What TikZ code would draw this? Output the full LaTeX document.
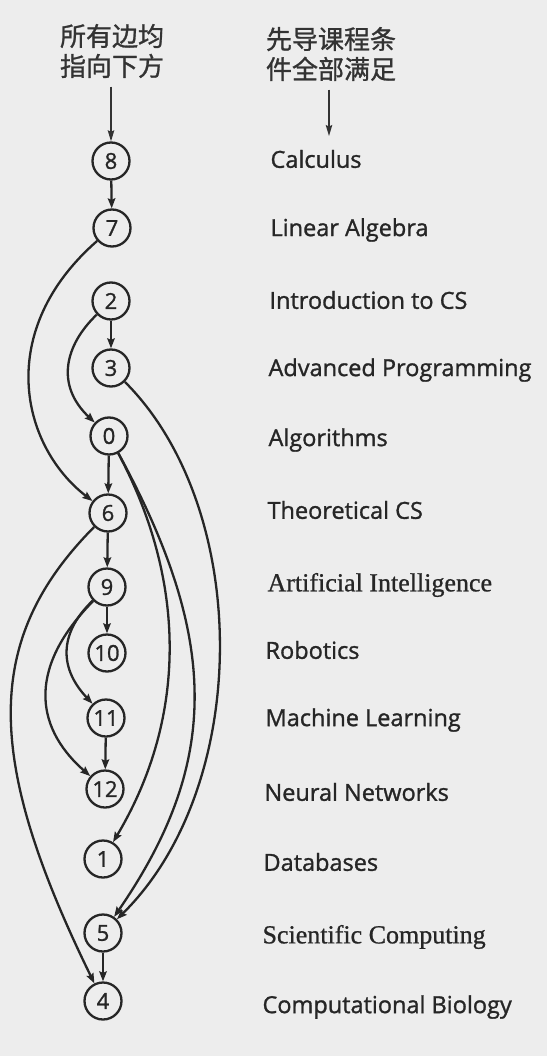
\documentclass[tikz,border=0pt]{standalone}
\usepackage{fontspec}
\setmainfont{Open Sans}
\newfontfamily\labelfont{Open Sans}[FakeBold=1.2]
\newfontfamily\cjkfont{Noto Sans CJK SC}[FakeBold=1]
\newfontfamily\timesfont{Liberation Serif}[FakeBold=0.8]
\usepackage{tikz}
\usetikzlibrary{arrows.meta,positioning}

\tikzset{
  course/.style={circle,draw=black!85,line width=2.3pt,minimum size=37pt,inner sep=0pt,
    text=black!85,font=\labelfont\fontsize{22}{22}\selectfont},
  title/.style={anchor=west,text=black!85,font=\labelfont\fontsize{23.5}{26}\selectfont},
  seriftitle/.style={title,font=\timesfont\fontsize{26}{28}\selectfont},
  header/.style={align=center,text=black!80,font=\cjkfont\fontsize{26}{30}\selectfont},
  prereq/.style={draw=black!85,line width=2.3pt,-{Stealth[length=10pt,width=7.5pt,inset=1.5pt]}},
  pointer/.style={draw=black!80,line width=1.3pt,-{Stealth[length=11pt,width=6.5pt,inset=1.5pt]}},
}

\begin{document}
\begin{tikzpicture}[x=1pt,y=-1pt]
  \fill[black!7] (0,0) rectangle (547,1056);
  \useasboundingbox (0,0) rectangle (547,1056);

  % course nodes, in topological order
  \node[course] (c8)  at (111,161)  {8};
  \node[course] (c7)  at (112,228)  {7};
  \node[course] (c2)  at (111,301)  {2};
  \node[course] (c3)  at (111,368)  {3};
  \node[course] (c0)  at (109,436)  {0};
  \node[course] (c6)  at (108,513)  {6};
  \node[course] (c9)  at (107,587)  {9};
  \node[course] (c10) at (107,653)  {10};
  \node[course] (c11) at (106,718)  {11};
  \node[course] (c12) at (105,789)  {12};
  \node[course] (c1)  at (103,859)  {1};
  \node[course] (c5)  at (103,933)  {5};
  \node[course] (c4)  at (103,1001) {4};

  % course names
  \node[title] (t8)  at (267,159)  {Calculus};
  \node[title] (t7)  at (267,230)  {Linear Algebra};
  \node[title] (t2)  at (266,300)  {Introduction to CS};
  \node[title] (t3)  at (265,370)  {Advanced Programming};
  \node[title] (t0)  at (265,440)  {Algorithms};
  \node[title] (t6)  at (264,510)  {Theoretical CS};
  \node[seriftitle] (t9)  at (264,585)  {Artificial Intelligence};
  \node[title] (t10) at (262,650)  {Robotics};
  \node[title] (t11) at (262,720)  {Machine Learning};
  \node[title] (t12) at (261,792)  {Neural Networks};
  \node[title] (t1)  at (260,862)  {Databases};
  \node[seriftitle] (t5)  at (259,937)  {Scientific Computing};
  \node[title] (t4)  at (259,1007) {Computational Biology};

  % headers
  \node[header] (hdrL) at (112,51) {所有边均\\指向下方};
  \node[header] (hdrR) at (331,54) {先导课程条\\件全部满足};
  \coordinate (tipR) at (329,136);
  \draw[pointer,shorten <=5pt] (hdrL.south -| c8.north) -- (c8.north);
  \draw[pointer,shorten <=5pt] (hdrR.south -| tipR) -- (tipR);

  % prerequisite edges
  \draw[prereq] (c8) -- (c7);
  \draw[prereq] (c2) -- (c3);
  \draw[prereq] (c0) -- (c6);
  \draw[prereq] (c6) -- (c9);
  \draw[prereq] (c9) -- (c10);
  \draw[prereq] (c11) -- (c12);
  \draw[prereq] (c5) -- (c4);
  \draw[prereq] (c7) .. controls (-5,330) and (20,445) .. (c6);
  \draw[prereq] (c2) .. controls (65,345) and (55,385) .. (c0);
  \draw[prereq] (c3) .. controls (252,509) and (252,786) .. (c5);
  \draw[prereq] (c0) .. controls (187,582) and (187,718) .. (c1);
  \draw[prereq] (c0) .. controls (220,640) and (220,763) .. (c5);
  \draw[prereq] (c6) .. controls (-18,640) and (-15,760) .. (c4);
  \draw[prereq] (c9) .. controls (62,630) and (56,665) .. (c11);
  \draw[prereq] (c9) .. controls (30,665) and (32,725) .. (c12);
\end{tikzpicture}
\end{document}
